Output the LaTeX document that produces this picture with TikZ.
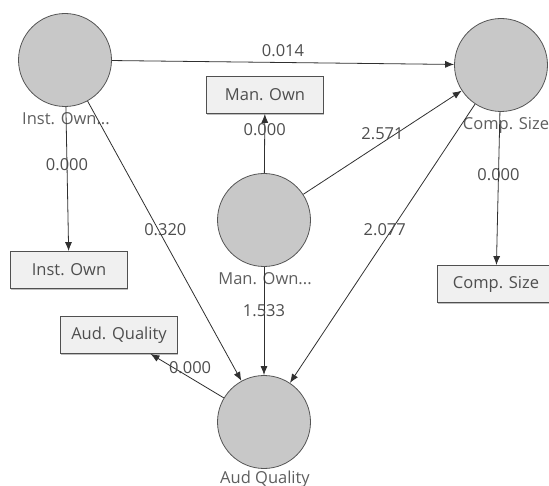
\documentclass[tikz,border=0pt]{standalone}
\usepackage{fontspec}
\setmainfont{Open Sans}
\usetikzlibrary{arrows.meta,positioning,shadows}

\definecolor{latfill}{HTML}{C8C8C8}
\definecolor{latline}{HTML}{555555}
\definecolor{boxfill}{HTML}{F0F0F0}
\definecolor{boxline}{HTML}{505050}
\definecolor{pathline}{HTML}{303030}
\definecolor{labtext}{HTML}{5E5E5E}
\definecolor{coeftext}{HTML}{4E4E4E}

\begin{document}
\begin{tikzpicture}[x=1pt, y=-1pt,
        latent/.style={circle, draw=latline, line width=0.8pt, fill=latfill, minimum size=93pt, inner sep=0pt},
        indic/.style={rectangle, draw=boxline, line width=0.8pt, fill=boxfill, minimum width=117pt, minimum height=37pt,
                text=boxtext, font=\fontsize{16.5}{19}\selectfont,
                drop shadow={shadow xshift=0.8pt, shadow yshift=-1.5pt, fill=gray, opacity=0.5}},
        latname/.style={text=labtext, font=\fontsize{16.5}{19}\selectfont, inner sep=0pt},
        relpath/.style={draw=pathline, line width=0.8pt, -{Latex[length=9pt,width=7pt]}},
        coef/.style={text=coeftext, font=\fontsize{16.5}{19}\selectfont, inner sep=0pt}]

    \colorlet{boxtext}{coeftext}

    % Frame
    \useasboundingbox (0,0) rectangle (549,486);

    % Latent variables
    \node (instown) [latent] at (65,60) {};
    \node (compsize) [latent] at (501,65) {};
    \node (manown) [latent] at (264,220) {};
    \node (audq) [latent] at (264,422) {};

    % Latent names
    \node (instownname) [latname] at (66,119) {Inst. Own...};
    \node (compsizename) [latname] at (506,125) {Comp. Size};
    \node (manownname) [latname] at (265,279) {Man. Own...};
    \node (audqname) [latname] at (265,479) {Aud Quality};

    % Indicators
    \node (instownbox) [indic] at (69,270) {Inst. Own};
    \node (manownbox) [indic] at (265,95) {Man. Own};
    \node (audqbox) [indic] at (119,335) {Aud. Quality};
    \node (compsizebox) [indic] at (496,284) {Comp. Size};

    % Structural paths
    \draw [relpath] (instown) -- node [coef, pos=0.5, yshift=12pt] {0.014} (compsize);
    \draw [relpath] (instown) -- node [coef, pos=0.46, xshift=7pt] {0.320} (audq);
    \draw [relpath] (manown) -- node [coef, pos=0.5, yshift=9pt] {2.571} (compsize);
    \draw [relpath] (compsize) -- node [coef, pos=0.45, xshift=-7pt] {2.077} (audq);
    \draw [relpath] (manown) -- node [coef, pos=0.4] {1.533} (audq);

    % Outer paths
    \draw [relpath] (instown) -- node [coef, pos=0.4] {0.000} (instownbox);
    \draw [relpath] (manown) -- node [coef, pos=0.73] {0.000} (manownbox);
    \draw [relpath] (compsize) -- node [coef, pos=0.41] {0.000} (compsizebox);
    \draw [relpath] (audq) -- node [coef, pos=0.46, yshift=10pt] {0.000} (audqbox);

\end{tikzpicture}
\end{document}
